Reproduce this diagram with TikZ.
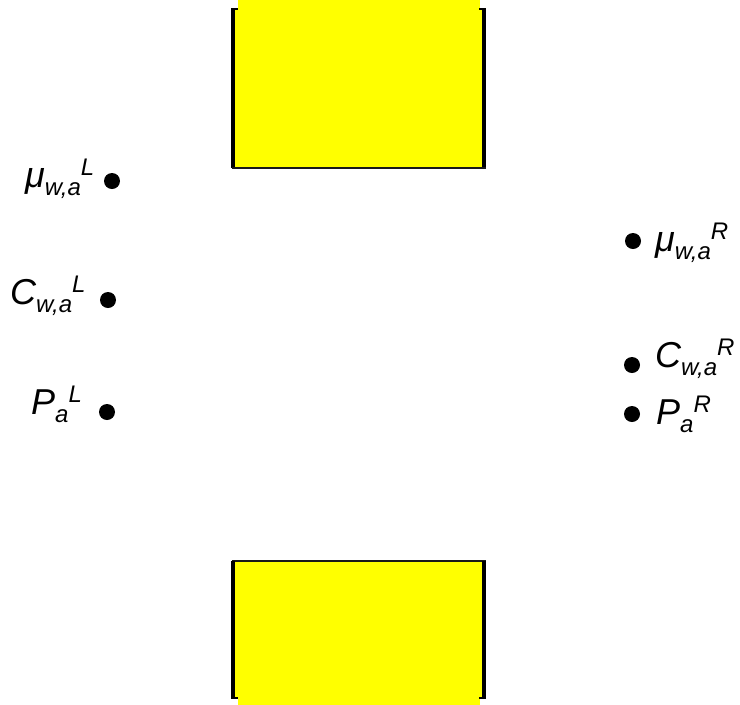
\documentclass[tikz,border=0pt]{standalone}
\usepackage{fontspec}
\setmainfont{Liberation Sans}
\newcommand{\mylbl}[3]{{\fontsize{36}{36}\selectfont\itshape #1\raisebox{-8pt}{\fontsize{24}{24}\selectfont #2}\raisebox{12pt}{\fontsize{24}{24}\selectfont #3}}}
\tikzset{
  dotnode/.style={circle,fill=black,inner sep=0pt,minimum size=16pt},
  lblnode/.style={inner sep=0pt,anchor=base west},
  yel/.style={fill={rgb,255:red,255;green,255;blue,0}},
  bar/.style={line width=3.5pt,black},
  rim/.style={line width=2.2pt,black!90}
}
\begin{document}
\begin{tikzpicture}[x=1pt,y=-1pt]
\useasboundingbox (0,0) rectangle (740,705);
% top box
\fill[yel] (238,0) rectangle (480,12);
\fill[yel] (235,8) rectangle (483,167);
\draw[bar] (233,8) -- (233,168);
\draw[bar] (484,8) -- (484,168);
\draw[bar,line width=2.5pt] (232,9) -- (238,9);
\draw[bar,line width=2.5pt] (479,9) -- (485,9);
\draw[rim] (232,168) -- (486,168);
% bottom box
\fill[yel] (235,562) rectangle (483,697);
\fill[yel] (238,695) rectangle (480,705);
\draw[rim] (232,561) -- (486,561);
\draw[bar] (233,561) -- (233,699);
\draw[bar] (484,561) -- (484,699);
\draw[bar,line width=2.5pt] (232,698) -- (238,698);
\draw[bar,line width=2.5pt] (479,698) -- (485,698);
% dots
\node[dotnode] (dl1) at (112,181) {};
\node[dotnode] (dl2) at (108,300) {};
\node[dotnode] (dl3) at (107,412) {};
\node[dotnode] (dr1) at (633,241) {};
\node[dotnode] (dr2) at (632,365) {};
\node[dotnode] (dr3) at (632,414) {};
% labels
\node[lblnode] (ll1) at (25,187) {\mylbl{μ}{w,a}{L}};
\node[lblnode] (ll2) at (10,304) {\mylbl{C}{w,a}{L}};
\node[lblnode] (ll3) at (31,414) {\mylbl{P}{a}{L}};
\node[lblnode] (lr1) at (655,251) {\mylbl{μ}{w,a}{R}};
\node[lblnode] (lr2) at (655,367) {\mylbl{C}{w,a}{R}};
\node[lblnode] (lr3) at (656,424) {\mylbl{P}{a}{R}};
\end{tikzpicture}
\end{document}
